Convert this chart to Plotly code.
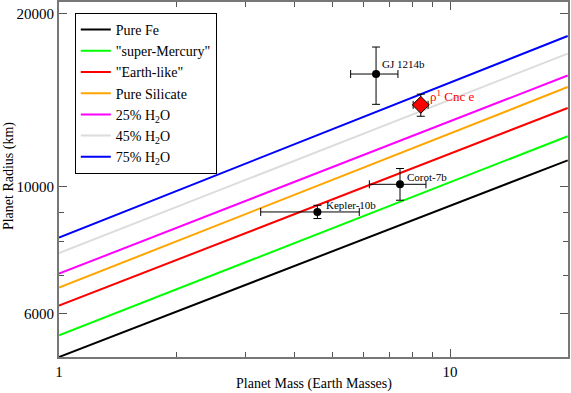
import numpy as np
import plotly.graph_objects as go

# composition curves: radius (km) read at 1 and 20 Earth masses
massas_curva = [1, 20]
curvas = {
    "Pure Fe": ([5036, 11100], "#000000"),
    "\"super-Mercury\"": ([5495, 12230], "#00ff00"),
    "\"Earth-like\"": ([6190, 13700], "#ff0000"),
    "Pure Silicate": ([6655, 14900], "#ffa500"),
    "25% H<sub>2</sub>O": ([7040, 15610], "#ff00ff"),
    "45% H<sub>2</sub>O": ([7650, 17040], "#dcdcdc"),
    "75% H<sub>2</sub>O": ([8140, 18290], "#0000ff"),
}

# planets
planetas = ["GJ 1214b", "Corot-7b", "Kepler-10b"]
massa = [6.47, 7.45, 4.58]
massa_mais = [0.89, 1.23, 1.28]
massa_menos = [0.90, 1.23, 1.30]
raio = [15700, 10080, 9020]
raio_mais = [1800, 660, 245]
raio_menos = [1800, 625, 235]

cnc_massa, cnc_massa_err = 8.42, 0.37
cnc_raio, cnc_raio_mais, cnc_raio_menos = 13870, 610, 620

FONTE = "Liberation Serif, Times New Roman, serif"

fig = go.Figure()

for nome, (raios, cor) in curvas.items():
    fig.add_trace(go.Scatter(
        x=massas_curva, y=raios, mode="lines", name=nome,
        line=dict(color=cor, width=2)
    ))

fig.add_trace(go.Scatter(
    x=massa, y=raio, mode="markers", showlegend=False,
    marker=dict(color="black", size=8),
    error_x=dict(type="data", array=massa_mais, arrayminus=massa_menos,
                 color="black", thickness=1, width=4),
    error_y=dict(type="data", array=raio_mais, arrayminus=raio_menos,
                 color="black", thickness=1, width=4),
))

fig.add_trace(go.Scatter(
    x=[cnc_massa], y=[cnc_raio], mode="markers", showlegend=False,
    marker=dict(color="#ff0000", size=13, symbol="diamond",
                line=dict(color="black", width=1)),
    error_x=dict(type="data", array=[cnc_massa_err], color="black",
                 thickness=1, width=4),
    error_y=dict(type="data", array=[cnc_raio_mais], arrayminus=[cnc_raio_menos],
                 color="black", thickness=1, width=4),
))

deslocs = {"GJ 1214b": (4, 10), "Corot-7b": (5, 7), "Kepler-10b": (7, 7)}
for nome, m, r in zip(planetas, massa, raio):
    dx, dy = deslocs[nome]
    fig.add_annotation(x=np.log10(m), y=np.log10(r), text=nome, showarrow=False,
                       xanchor="left", yanchor="middle", xshift=dx, yshift=dy,
                       font=dict(family=FONTE, size=11, color="black"))

fig.add_annotation(x=np.log10(cnc_massa), y=np.log10(cnc_raio),
                   text="ρ<sup>1</sup> Cnc e", showarrow=False,
                   xanchor="left", yanchor="middle", xshift=7, yshift=9,
                   font=dict(family=FONTE, size=13, color="#ff0000"))

# axis titles as paper annotations
fig.add_annotation(x=0.5, y=-0.075, xref="paper", yref="paper",
                   text="Planet Mass (Earth Masses)", showarrow=False,
                   xanchor="center", yanchor="middle",
                   font=dict(family=FONTE, size=14, color="black"))
fig.add_annotation(x=-0.098, y=0.51, xref="paper", yref="paper",
                   text="Planet Radius (km)", showarrow=False, textangle=-90,
                   xanchor="center", yanchor="middle",
                   font=dict(family=FONTE, size=14, color="black"))

eixo = dict(
    type="log", showgrid=False, zeroline=False, automargin=False,
    showline=True, linecolor="#777777", linewidth=2, mirror="allticks",
    ticks="inside", ticklen=8, tickcolor="#555555", tickwidth=1,
    tickfont=dict(family=FONTE, size=15, color="black"),
)

fig.update_xaxes(
    **eixo, range=[0, 1.3018], tickvals=[1, 10], ticktext=["1", "10"],
    minor=dict(tickvals=[2, 3, 4, 5, 6, 7, 8, 9, 20, 30], ticks="inside",
               ticklen=5, tickcolor="#555555"),
)
fig.update_yaxes(
    **eixo, range=[3.7021, 4.3216], tickvals=[6000, 10000, 20000],
    ticktext=["6000", "10000", "20000"],
    minor=dict(tickvals=[7000, 8000, 9000], ticks="inside",
               ticklen=5, tickcolor="#555555"),
)

fig.update_layout(
    width=571, height=393,
    margin=dict(l=59, r=3, t=2, b=36),
    paper_bgcolor="white", plot_bgcolor="white",
    font=dict(family=FONTE, size=14, color="black"),
    legend=dict(
        x=0.031, y=0.969, xanchor="left", yanchor="top",
        bgcolor="white", bordercolor="black", borderwidth=1,
        font=dict(family=FONTE, size=14, color="black"),
        tracegroupgap=0, itemwidth=30,
    ),
)

fig.write_html("out.html", config={"displayModeBar": False},
               post_script="document.body.style.margin='0';")
